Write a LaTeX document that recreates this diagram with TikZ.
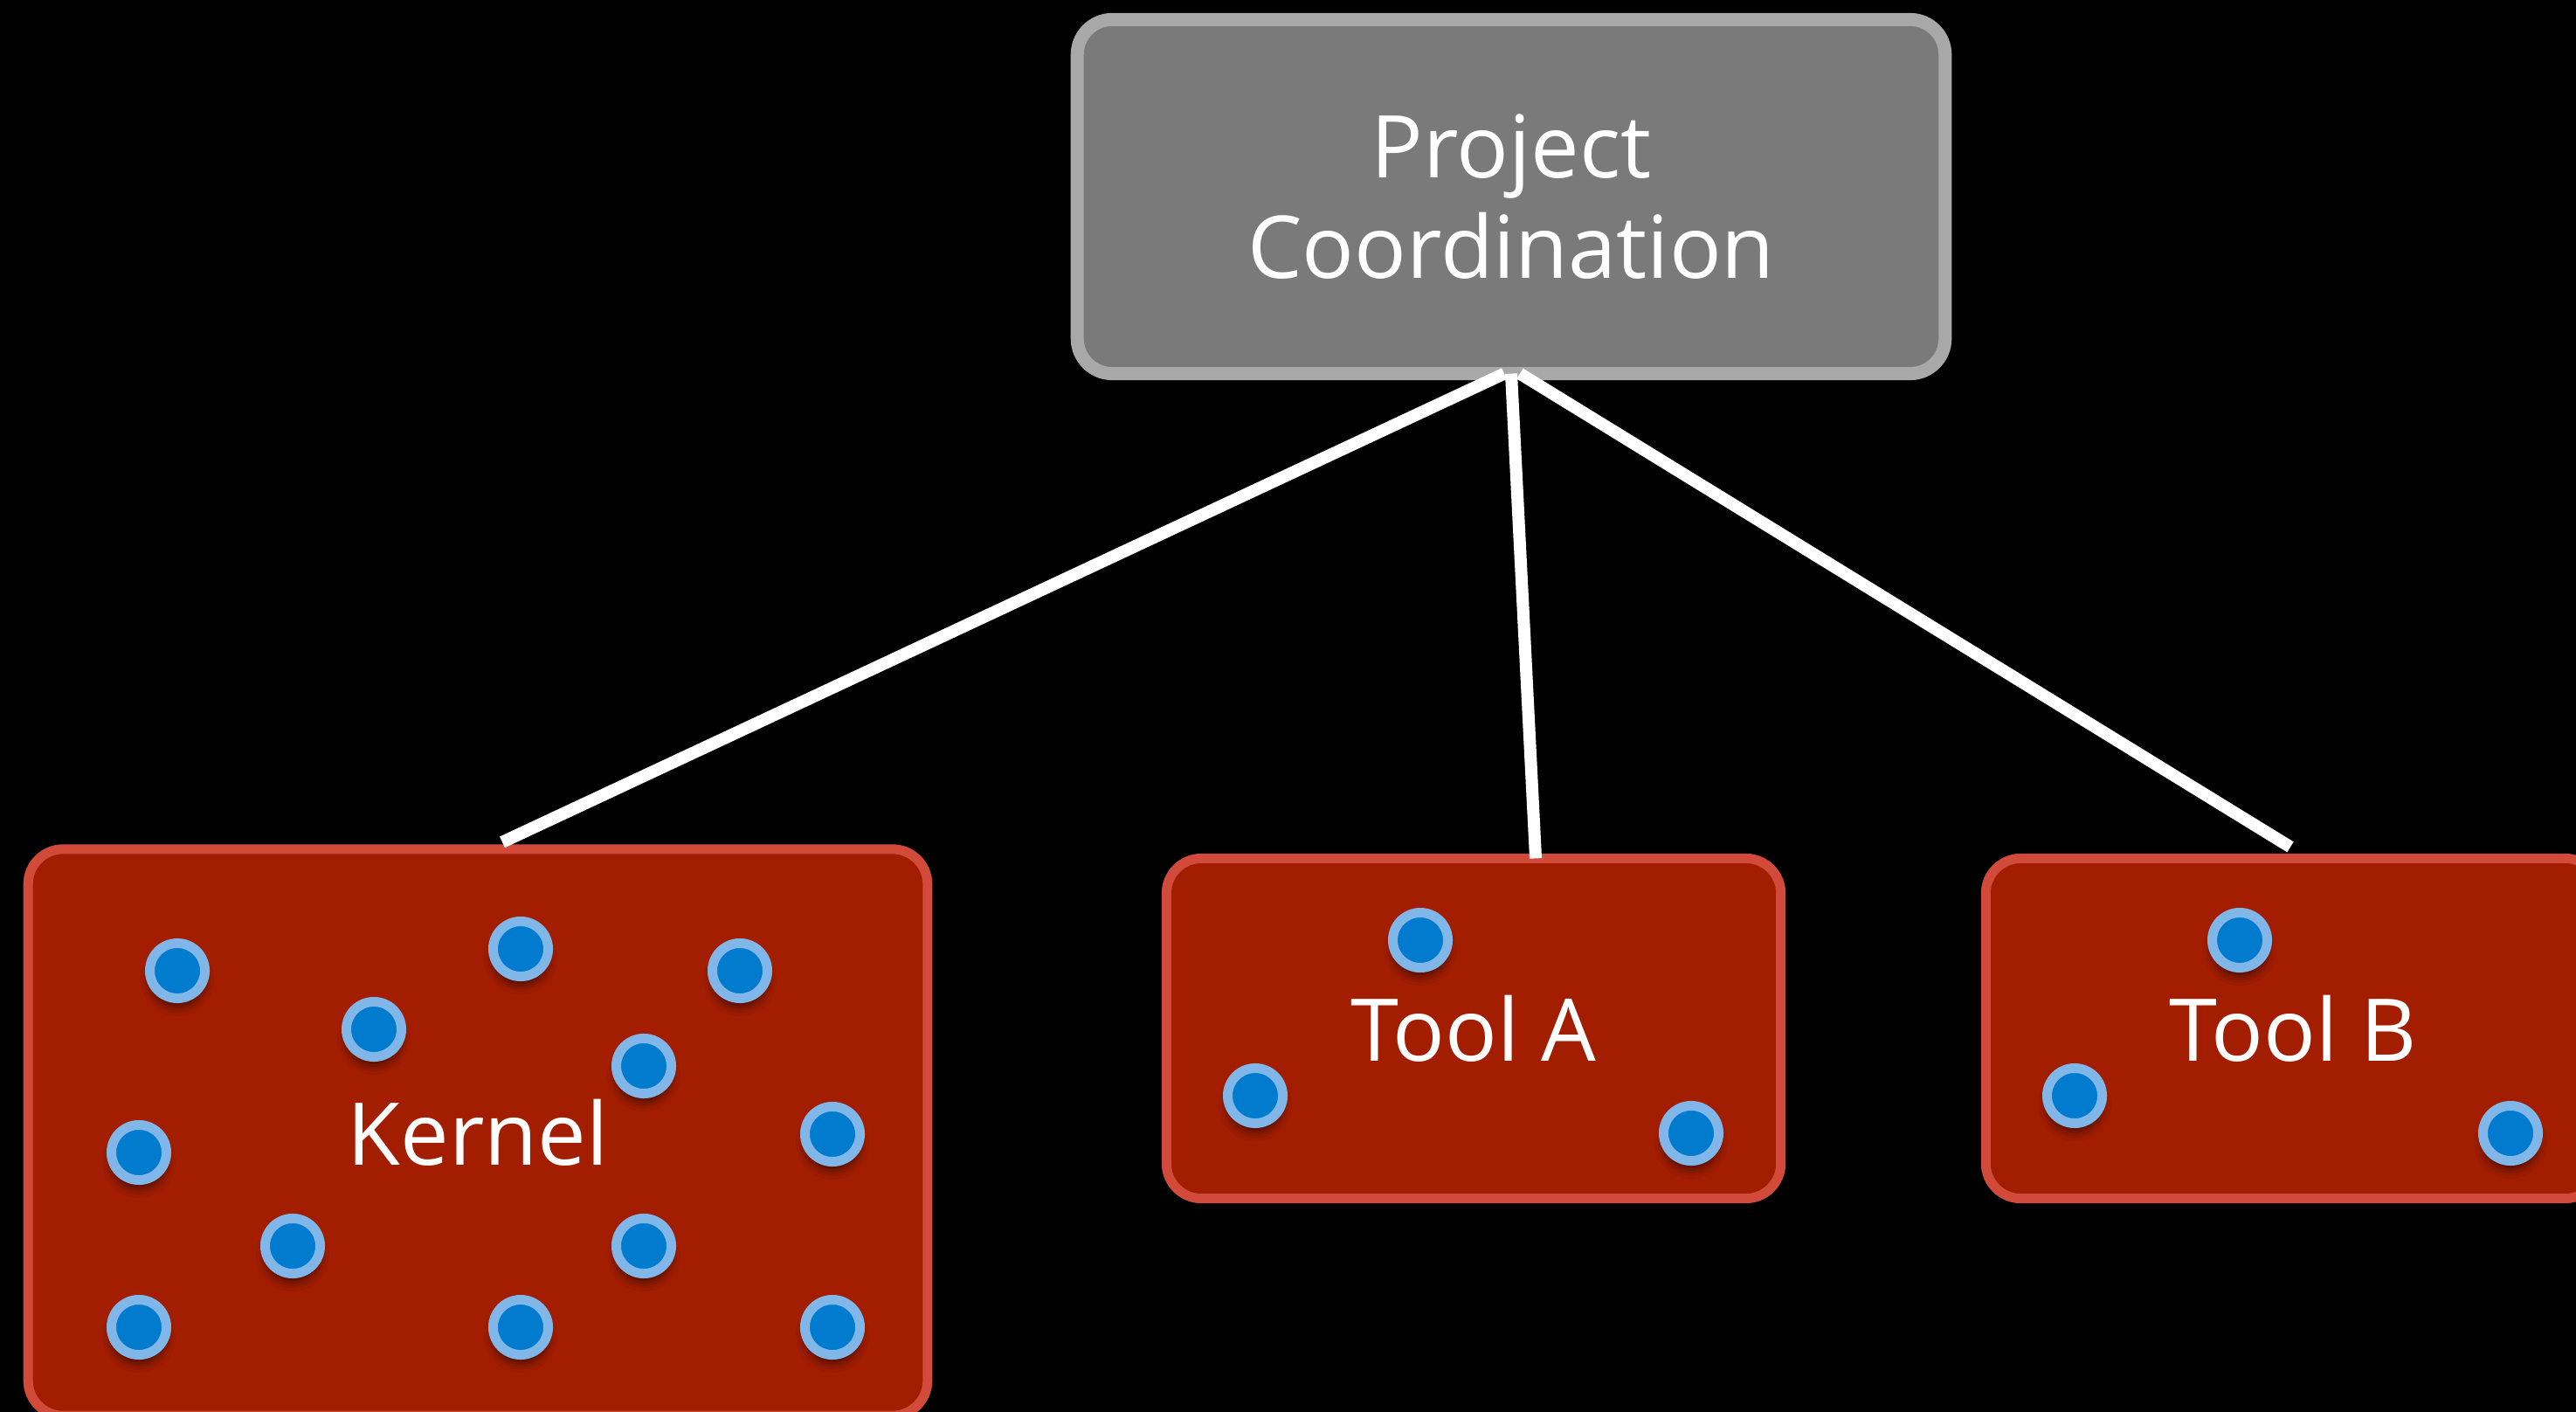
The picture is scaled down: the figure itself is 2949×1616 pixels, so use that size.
\documentclass[tikz,border=0pt]{standalone}
\usepackage{fontspec}
\setmainfont{Open Sans}
\usetikzlibrary{shadows.blur}
\definecolor{coordfill}{HTML}{7A7A7A}
\definecolor{coordline}{HTML}{A8A8A8}
\definecolor{partfill}{HTML}{A31E00}
\definecolor{partline}{HTML}{D24A3A}
\definecolor{memberring}{HTML}{80B6E8}
\definecolor{memberfill}{HTML}{007BCE}
\newcommand\slidefont{\fontsize{28.2}{32.7}\selectfont}
\tikzset{
  coordbox/.style={draw=coordline,fill=coordfill,line width=0.15cm,rounded corners=0.4cm,
    inner sep=0,outer sep=0,minimum width=9.93cm,minimum height=4.05cm,
    align=center,text=white,font=\slidefont},
  partbox/.style={draw=partline,fill=partfill,line width=0.11cm,rounded corners=0.4cm,
    inner sep=0,outer sep=0,text=white,font=\slidefont},
  member/.style={circle,draw=memberring,fill=memberfill,line width=0.11cm,
    minimum size=0.63cm,inner sep=0,
    blur shadow={shadow xshift=0cm,shadow yshift=-0.1cm,shadow blur radius=0.1cm,shadow opacity=55}},
  link/.style={draw=white,line width=0.14cm}
}

\begin{document}
\begin{tikzpicture}[x=0.01cm,y=-0.01cm]
\useasboundingbox (0,0) rectangle (2949,1616);
\fill[black] (0,0) rectangle (2949,1616);
\clip (0,0) rectangle (2949,1616);

\node[coordbox] (coord) at (1730,225) {Project\\Coordination};
\node[partbox,minimum width=10.29cm,minimum height=6.48cm] (kernel) at (547,1296) {Kernel};
\node[partbox,minimum width=7.03cm,minimum height=3.89cm] (toolA) at (1687,1177) {Tool A};
\node[partbox,minimum width=7.03cm,minimum height=3.89cm] (toolB) at (2625,1177) {Tool B};

\foreach \px/\py [count=\n] in {203/1111,596/1086,847/1111,428/1178,737/1220,159/1319,
  953/1298,335/1426,737/1426,159/1519,596/1519,953/1519}
  \node[member] (kmember\n) at (\px,\py) {};
\foreach \dx/\dy [count=\n] in {-61/1076,-250/1254,249/1297}
  {\node[member] (amember\n) at (1687+\dx,\dy) {};
   \node[member] (bmember\n) at (2625+\dx,\dy) {};}

\draw[link] ([xshift=-0.08cm]coord.south) -- ([xshift=0.28cm,yshift=0.08cm]kernel.north);
\draw[link] (coord.south) -- ([xshift=0.71cm]toolA.north);
\draw[link] ([xshift=0.1cm]coord.south) -- ([xshift=-0.03cm,yshift=0.13cm]toolB.north);
\end{tikzpicture}
\end{document}
